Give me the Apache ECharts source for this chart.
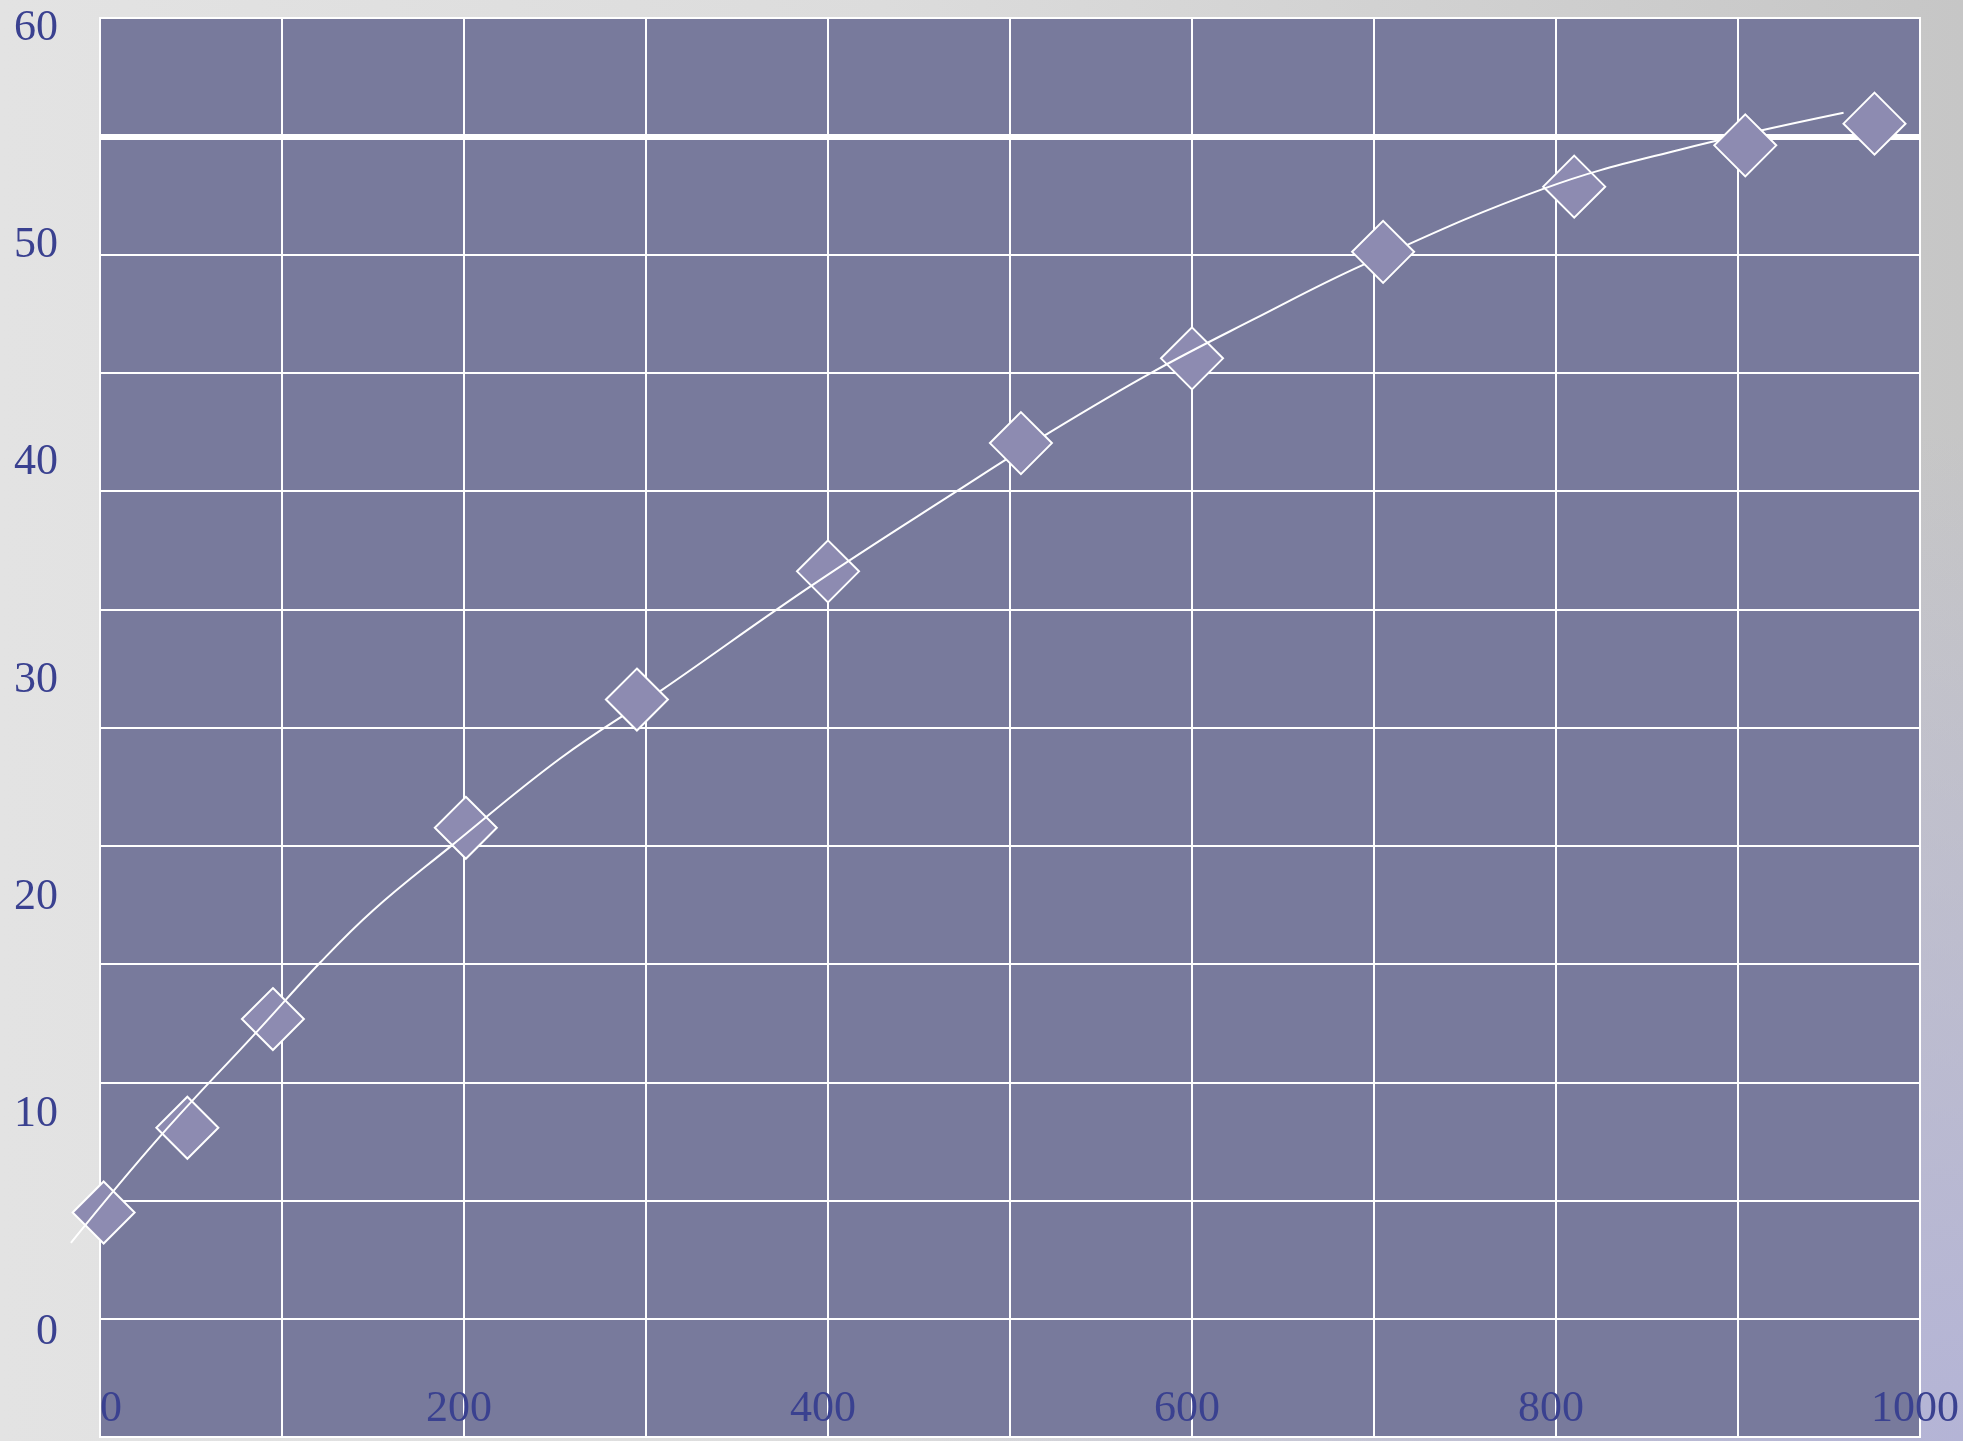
<!DOCTYPE html>
<html>
<head>
<meta charset="utf-8">
<script src="https://cdn.jsdelivr.net/npm/echarts@6/dist/echarts.min.js"></script>
<style>
  html, body { margin: 0; padding: 0; }
  body {
    width: 1963px; height: 1441px; overflow: hidden;
    background:
      radial-gradient(ellipse 55% 70% at 100% 100%, rgba(180,180,214,1) 0%, rgba(180,180,214,0) 100%),
      linear-gradient(to right, #e3e3e3 0%, #dcdcdc 45%, #c6c6c6 100%);
  }
  #chart { width: 1963px; height: 1441px; }
</style>
</head>
<body>
<div id="chart"></div>
<script>
// Measured points, drawn as diamonds (two groups, stacked below / above the curve)
const lowerX = [2, 48, 95, 201, 400, 600, 810];
const lowerY = [5.5, 9.4, 14.4, 23.2, 35.0, 44.8, 52.7];
const upperX = [295, 506, 705, 904, 975];
const upperY = [29.1, 40.9, 49.7, 54.6, 55.6];

// Smoothed curve (starts slightly left of x = 0)
const curveX = [-16, 33, 86, 121, 150, 192, 253, 308, 392, 471, 520, 579, 634, 694, 793, 868, 958];
const curveY = [4.1, 9.0, 13.8, 17.0, 19.4, 22.3, 26.4, 29.5, 34.4, 38.7, 41.3, 44.2, 46.6, 49.1, 52.6, 54.4, 56.1];

// Limit line
const limitValue = 55;

// Axis labels
const xLabels = [0, 200, 400, 600, 800, 1000];
const yLabels = [0, 10, 20, 30, 40, 50, 60];

// Axis ranges
const X_MIN = 0, X_MAX = 1000, X_STEP = 100;
const Y_MIN = -4.83, Y_MAX = 60.46;
const CURVE_X_MIN = -20;

const zip = (xs, ys) => xs.map((x, i) => [x, ys[i]]);

// plot box geometry
const PLOT_LEFT = 100, PLOT_RIGHT = 43, PLOT_TOP = 18, PLOT_BOTTOM = 4, CHART_W = 1963;
const pxPerUnit = (CHART_W - PLOT_LEFT - PLOT_RIGHT) / (X_MAX - X_MIN);

const labelFont = {
  fontFamily: 'Liberation Serif',
  fontSize: 44,
  color: '#3a4190'
};

const diamond = {
  type: 'scatter',
  symbol: 'diamond',
  symbolSize: 62,
  clip: false,
  itemStyle: { color: '#8d8bb1', borderColor: '#ffffff', borderWidth: 2, opacity: 1 },
  emphasis: { disabled: true }
};

const chart = echarts.init(document.getElementById('chart'), null, { renderer: 'canvas' });
chart.setOption({
  animation: false,
  grid: [
    {
      left: PLOT_LEFT, right: PLOT_RIGHT, top: PLOT_TOP, bottom: PLOT_BOTTOM,
      show: true,
      backgroundColor: '#787a9c',
      borderColor: '#ffffff',
      borderWidth: 2,
      containLabel: false,
      outerBoundsMode: 'none'
    },
    {
      // same scale, widened to the left so the curve can start before x = 0
      left: PLOT_LEFT + (CURVE_X_MIN - X_MIN) * pxPerUnit,
      right: PLOT_RIGHT, top: PLOT_TOP, bottom: PLOT_BOTTOM,
      show: false,
      containLabel: false,
      outerBoundsMode: 'none'
    }
  ],
  xAxis: [
    {
      type: 'value',
      gridIndex: 0,
      min: X_MIN, max: X_MAX, interval: X_STEP,
      axisLine: { show: false },
      axisTick: { show: false },
      splitLine: { show: true, lineStyle: { color: '#ffffff', width: 2 } },
      axisLabel: Object.assign({
        inside: true,
        interval: 1,
        margin: 6,
        alignMinLabel: 'left',
        padding: [0, 10, 0, 0],
        formatter: (v) => String(v)
      }, labelFont, {
        customValues: xLabels
      })
    },
    {
      type: 'value',
      gridIndex: 1,
      min: CURVE_X_MIN, max: X_MAX,
      show: false
    }
  ],
  yAxis: [
    {
      type: 'value',
      gridIndex: 0,
      min: Y_MIN, max: Y_MAX,
      axisLine: { show: false },
      axisTick: { show: false },
      splitLine: { show: false },
      axisLabel: Object.assign({ margin: 42, customValues: yLabels, formatter: (v) => String(v) }, labelFont)
    },
    {
      // row rules of the plot
      type: 'value',
      gridIndex: 0,
      min: 0, max: 12, interval: 1,
      position: 'left',
      axisLine: { show: false },
      axisTick: { show: false },
      axisLabel: { show: false },
      splitLine: { show: true, lineStyle: { color: '#ffffff', width: 2 } }
    },
    {
      type: 'value',
      gridIndex: 1,
      min: Y_MIN, max: Y_MAX,
      show: false
    }
  ],
  series: [
    {
      type: 'line',
      data: [],
      z: 1,
      silent: true,
      markLine: {
        silent: true,
        symbol: 'none',
        label: { show: false },
        lineStyle: { color: '#ffffff', width: 6, type: 'solid' },
        data: [{ yAxis: limitValue }]
      }
    },
    Object.assign({ name: 'A', data: zip(lowerX, lowerY), z: 3 }, diamond),
    {
      name: 'curve',
      type: 'line',
      xAxisIndex: 1,
      yAxisIndex: 2,
      data: zip(curveX, curveY),
      smooth: 0.4,
      showSymbol: false,
      clip: false,
      z: 4,
      lineStyle: { color: '#ffffff', width: 2 }
    },
    Object.assign({ name: 'B', data: zip(upperX, upperY), z: 5 }, diamond)
  ]
});
</script>
</body>
</html>
